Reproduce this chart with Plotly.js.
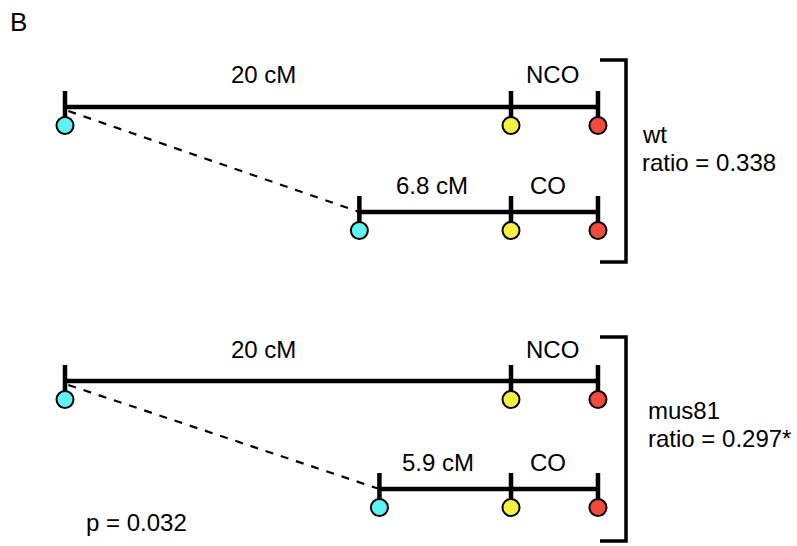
<!DOCTYPE html>
<html>
<head>
<meta charset="utf-8">
<script src="https://cdn.plot.ly/plotly-3.0.1.min.js"></script>
<style>
  html, body { margin: 0; padding: 0; background: #fff; }
  #chart { width: 797px; height: 546px; }
</style>
</head>
<body>
<div id="chart"></div>
<script>
// Genetic intervals (cM) for each genotype
const genotypes = ['wt', 'mus81'];
const ncoIntervalCM = [20, 20];
const coIntervalCM = [6.8, 5.9];
const ncoLabels = ['20 cM', '20 cM'];
const coLabels = ['6.8 cM', '5.9 cM'];
const ratioLabels = ['ratio = 0.338', 'ratio = 0.297*'];
const pLabel = 'p = 0.032';
const outerMarkerCM = 3.9;   // yellow -> red marker spacing

const W = 797, H = 546;
const PX_PER_CM = 22.3, ORIGIN_PX = 65;
const FONT = { family: 'Arial, "Liberation Sans", Helvetica, sans-serif', size: 24, color: '#000' };

// vertical layout of each panel (pixels from top)
const panelRows = [
  { nco: 107, co: 212, bracket: [60, 262], textY: [134, 162] },
  { nco: 381, co: 489, bracket: [337, 541], textY: [410, 438] }
];
const DOT_DROP = 18.5, TICK_UP = 16;
const colors = { cyan: '#5ff3f3', yellow: '#f6f040', red: '#f24a3b' };

const px = x => x / W;          // paper x from pixel
const py = y => 1 - y / H;      // paper y from pixel

const traces = [];
const shapes = [];
const annotations = [];

genotypes.forEach((g, i) => {
  const r = panelRows[i];
  const nco = ncoIntervalCM[i], co = coIntervalCM[i];
  const rows = [
    { y: r.nco, pos: [0, nco, nco + outerMarkerCM] },
    { y: r.co,  pos: [nco - co, nco, nco + outerMarkerCM] }
  ];
  // dashed connector between the two left markers
  traces.push({
    x: [rows[0].pos[0] + 0.15, rows[1].pos[0]], y: [r.nco + 4, r.co],
    mode: 'lines', line: { color: '#000', width: 2.2, dash: '8px,8px' },
    hoverinfo: 'skip', showlegend: false
  });
  rows.forEach(row => {
    // interval line
    traces.push({
      x: [row.pos[0], row.pos[2]], y: [row.y, row.y],
      mode: 'lines', line: { color: '#000', width: 4.5 },
      hoverinfo: 'skip', showlegend: false
    });
    // marker ticks
    row.pos.forEach(p => {
      traces.push({
        x: [p, p], y: [row.y - TICK_UP, row.y + DOT_DROP],
        mode: 'lines', line: { color: '#000', width: 4.5 },
        hoverinfo: 'skip', showlegend: false
      });
    });
    // markers
    traces.push({
      x: row.pos, y: row.pos.map(() => row.y + DOT_DROP),
      mode: 'markers',
      marker: { size: 17, color: [colors.cyan, colors.yellow, colors.red], line: { color: '#000', width: 2 } },
      hoverinfo: 'skip', showlegend: false
    });
  });

  // bracket
  const [bt, bb] = r.bracket;
  const lineStyle = { color: '#000', width: 3.5 };
  shapes.push({ type: 'path', xref: 'paper', yref: 'paper',
    path: `M ${px(600)},${py(bt)} L ${px(626)},${py(bt)} L ${px(626)},${py(bb)} L ${px(600)},${py(bb)}`,
    line: lineStyle });

  // labels
  const lab = (text, x, y, anchor) => annotations.push({
    text, xref: 'paper', yref: 'paper', x: px(x), y: py(y),
    xanchor: anchor || 'center', yanchor: 'middle', showarrow: false, font: FONT
  });
  lab(ncoLabels[i], 263, r.nco - 32);
  lab('NCO', 552, r.nco - 32);
  lab(coLabels[i], i === 0 ? 432 : 438, r.co - 27);
  lab('CO', 548, r.co - 27);
  lab(g, i === 0 ? 640 : 646, r.textY[0], 'left');
  lab(ratioLabels[i], i === 0 ? 640 : 646, r.textY[1], 'left');
});

annotations.push({ text: pLabel, xref: 'paper', yref: 'paper', x: px(84), y: py(522),
  xanchor: 'left', yanchor: 'middle', showarrow: false, font: FONT });
annotations.push({ text: 'B', xref: 'paper', yref: 'paper', x: px(8), y: py(22),
  xanchor: 'left', yanchor: 'middle', showarrow: false, font: Object.assign({}, FONT, { size: 26 }) });

const layout = {
  width: W, height: H,
  margin: { l: 0, r: 0, t: 0, b: 0 },
  paper_bgcolor: '#fff', plot_bgcolor: '#fff',
  xaxis: { range: [-ORIGIN_PX / PX_PER_CM, (W - ORIGIN_PX) / PX_PER_CM], visible: false, fixedrange: true },
  yaxis: { range: [H, 0], visible: false, fixedrange: true },
  shapes, annotations, showlegend: false
};

Plotly.newPlot('chart', traces, layout, { staticPlot: true, displayModeBar: false });
</script>
</body>
</html>
